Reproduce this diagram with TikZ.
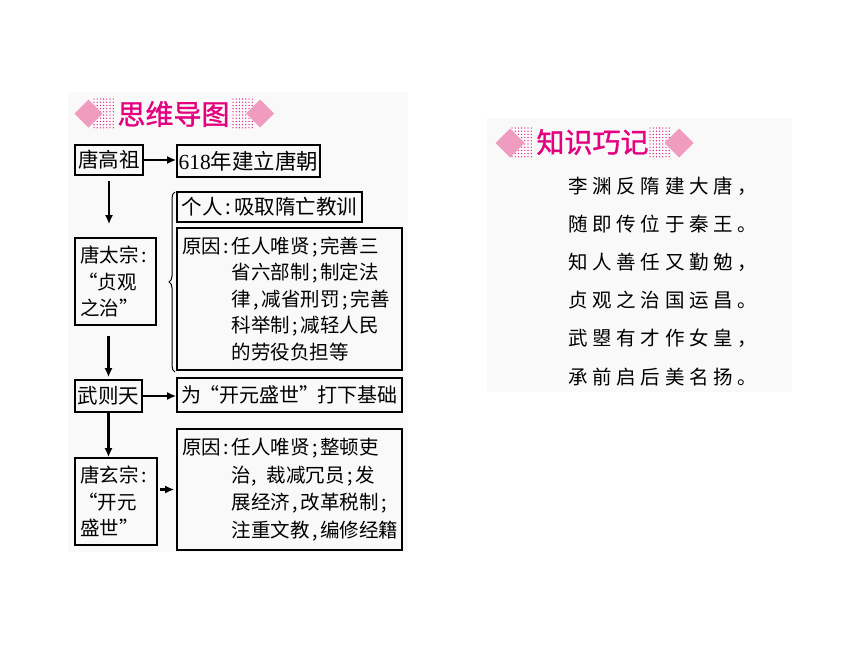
\documentclass[tikz,border=0pt]{standalone}
\usepackage{fontspec}
\setmainfont{Noto Sans CJK SC}
\newfontfamily\serifnum{Liberation Serif}
\newfontfamily\ttlfont[FakeBold=1.2]{Noto Sans CJK SC}
\usetikzlibrary{arrows.meta,decorations.pathreplacing}
\definecolor{magtext}{RGB}{228,0,127}
\definecolor{pinkd}{RGB}{240,156,192}
\definecolor{panelbg}{RGB}{249,249,249}
\newcommand\Kco{\makebox[0.55em]{:}}
\newcommand\Kse{\makebox[0.55em]{;}}
\newcommand\Kcm{\makebox[0.55em]{,}}
\newcommand\Qo{\makebox[0.9em][r]{“}}
\newcommand\Qc{\makebox[0.9em][l]{”}}
\def\Ploop#1{\ifx\relax#1\else\makebox[24.2pt][l]{#1}\expandafter\Ploop\fi}
\newcommand\Pl[1]{\Ploop#1\relax}
\newcommand\dotgrid[2]{\foreach \i in {0,...,6}{\foreach \j in {0,...,9}{\fill[magtext] ({#1+\i*3.2},{#2+\j*3.2}) circle (0.65pt);}}}
\tikzset{
  box/.style={draw, line width=1.6pt, inner sep=0pt, font=\fontsize{20.5}{24}\selectfont},
  mbox/.style={box, align=left, inner xsep=5pt, font=\fontsize{19.5}{26.5}\selectfont},
  arr/.style={draw=black, line width=2.2pt, -{Latex[length=9pt,width=8pt]}},
  ttl/.style={font=\ttlfont\fontsize{28}{30}\selectfont, text=magtext, inner sep=0pt},
  poem/.style={font=\fontsize{19.5}{22}\selectfont, inner sep=0pt, anchor=west},
  dia/.style={fill=pinkd}
}
\begin{document}
\begin{tikzpicture}[x=1pt,y=-1pt]
\useasboundingbox (0,0) rectangle (860,645);
\fill[white] (0,0) rectangle (860,645);
% panels
\fill[panelbg] (68,92) rectangle (408,552);
\fill[panelbg] (487,118) rectangle (792,392);
% title 1
\dotgrid{94}{99}
\dotgrid{233}{99}
\fill[dia] (88.5,99.5) -- (102.5,113.5) -- (88.5,127.5) -- (74.5,113.5) -- cycle;
\fill[dia] (260,99.5) -- (274,113.5) -- (260,127.5) -- (246,113.5) -- cycle;
\node[ttl] (t1) at (173.5,114) {思维导图};
% title 2
\dotgrid{512}{128}
\dotgrid{650}{128}
\fill[dia] (510,128.5) -- (524.5,143) -- (510,157.5) -- (495.5,143) -- cycle;
\fill[dia] (679,128.5) -- (693.5,143) -- (679,157.5) -- (664.5,143) -- cycle;
\node[ttl] (t2) at (592.5,142) {知识巧记};
% poem
\node[poem] (p1) at (568,186.0) {\Pl{李渊反隋建大唐}，};
\node[poem] (p2) at (568,224.2) {\Pl{随即传位于秦王}。};
\node[poem] (p3) at (568,262.3) {\Pl{知人善任又勤勉}，};
\node[poem] (p4) at (568,300.4) {\Pl{贞观之治国运昌}。};
\node[poem] (p5) at (568,338.5) {\Pl{武曌有才作女皇}，};
\node[poem] (p6) at (568,376.6) {\Pl{承前启后美名扬}。};
% boxes
\node[box, minimum width=68pt, minimum height=30pt] (gaozu) at (109,160) {唐高祖};
\node[box, minimum width=143pt, minimum height=32pt, font=\fontsize{21.5}{24}\selectfont] (b618) at (248.5,161) {{\serifnum 618}年建立唐朝};
\node[mbox, minimum width=81pt, minimum height=87pt, text width=71pt] (taizong) at (115.5,281.5) {唐太宗\Kco\\\Qo 贞观\\之治\Qc};
\node[box, minimum width=185pt, minimum height=30pt] (geren) at (269.5,207) {个人\Kco 吸取隋亡教训};
\node[mbox, minimum width=225pt, minimum height=142pt, text width=215pt] (yy1) at (289.5,299) {原因\Kco 任人唯贤\Kse 完善三\\\phantom{原因\Kco}省六部制\Kse 制定法\\\phantom{原因\Kco}律\Kcm 减省刑罚\Kse 完善\\\phantom{原因\Kco}科举制\Kse 减轻人民\\\phantom{原因\Kco}的劳役负担等};
\node[box, minimum width=67pt, minimum height=32pt] (wu) at (108.5,396) {武则天};
\node[box, minimum width=225pt, minimum height=34pt, font=\fontsize{20}{24}\selectfont] (wei) at (289.5,395) {为\Qo 开元盛世\Qc 打下基础};
\node[mbox, minimum width=82pt, minimum height=87pt, text width=72pt] (xz) at (116,501.5) {唐玄宗\Kco\\\Qo 开元\\盛世\Qc};
\node[mbox, minimum width=225pt, minimum height=121pt, text width=215pt, font=\fontsize{19.5}{27.5}\selectfont] (yy2) at (289.5,489.5) {原因\Kco 任人唯贤\Kse 整顿吏\\\phantom{原因\Kco}治\makebox[15.5pt][l]{,}裁减冗员\Kse 发\\\phantom{原因\Kco}展经济\Kcm 改革税制\Kse\\\phantom{原因\Kco}注重文教\Kcm 编修经籍};
% brace
\coordinate (brT) at (175,192);
\coordinate (brB) at (175,372);
\draw[line width=1pt, decorate, decoration={brace, amplitude=6pt}] (brB) -- (brT);
% arrows
\draw[arr] (gaozu.east) -- (gaozu.east -| b618.west);
\draw[arr, shorten <=5pt, shorten >=13pt] (gaozu.south) -- (gaozu.south |- taizong.north);
\draw[arr, shorten <=10pt, shorten >=2pt] (wu.north |- taizong.south) -- (wu.north);
\draw[arr] (wu.east) -- (wu.east -| wei.west);
\draw[arr] (wu.south) -- (wu.south |- xz.north);
\draw[arr, shorten <=2pt, shorten >=2pt] (yy2.west -| xz.east) -- (yy2.west);
\end{tikzpicture}
\end{document}
